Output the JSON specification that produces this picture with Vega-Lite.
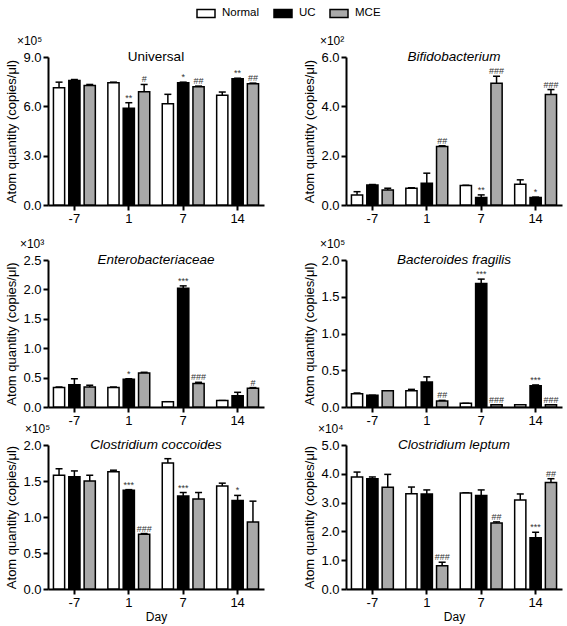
{
"$schema": "https://vega.github.io/schema/vega-lite/v6.json",
"padding": {"left": 5, "top": 3, "right": 5, "bottom": 3},
"config": {
  "font": "Liberation Sans",
  "view": {"stroke": null},
  "axis": {"domainColor": "black", "domainWidth": 2, "tickColor": "black", "tickWidth": 2, "tickSize": 5, "labelColor": "black", "labelFontSize": 13, "titleFontSize": 13, "titleFontWeight": "normal", "titleColor": "black", "grid": false, "labelFont": "Liberation Sans", "titleFont": "Liberation Sans", "labelPadding": 2, "titlePadding": 4, "labelAngle": 0},
  "title": {"font": "Liberation Sans", "color": "black", "fontWeight": "normal"}
},
"datasets": {
 "d": [
  {"p":"U","day":"-7","g":"Normal","v":7.13,"u":7.47,"s":""},
  {"p":"U","day":"-7","g":"UC","v":7.57,"u":7.63,"s":""},
  {"p":"U","day":"-7","g":"MCE","v":7.27,"u":7.33,"s":""},
  {"p":"U","day":"1","g":"Normal","v":7.43,"u":7.47,"s":""},
  {"p":"U","day":"1","g":"UC","v":5.88,"u":6.22,"s":"**"},
  {"p":"U","day":"1","g":"MCE","v":6.89,"u":7.33,"s":"#"},
  {"p":"U","day":"7","g":"Normal","v":6.16,"u":6.73,"s":""},
  {"p":"U","day":"7","g":"UC","v":7.43,"u":7.47,"s":"*"},
  {"p":"U","day":"7","g":"MCE","v":7.19,"u":7.23,"s":"##"},
  {"p":"U","day":"14","g":"Normal","v":6.67,"u":6.87,"s":""},
  {"p":"U","day":"14","g":"UC","v":7.67,"u":7.71,"s":"**"},
  {"p":"U","day":"14","g":"MCE","v":7.37,"u":7.41,"s":"##"},

  {"p":"B","day":"-7","g":"Normal","v":0.41,"u":0.54,"s":""},
  {"p":"B","day":"-7","g":"UC","v":0.81,"u":0.83,"s":""},
  {"p":"B","day":"-7","g":"MCE","v":0.61,"u":0.68,"s":""},
  {"p":"B","day":"1","g":"Normal","v":0.68,"u":0.70,"s":""},
  {"p":"B","day":"1","g":"UC","v":0.88,"u":1.29,"s":""},
  {"p":"B","day":"1","g":"MCE","v":2.37,"u":2.40,"s":"##"},
  {"p":"B","day":"7","g":"Normal","v":0.79,"u":0.80,"s":""},
  {"p":"B","day":"7","g":"UC","v":0.30,"u":0.41,"s":"**"},
  {"p":"B","day":"7","g":"MCE","v":4.94,"u":5.22,"s":"###"},
  {"p":"B","day":"14","g":"Normal","v":0.84,"u":1.02,"s":""},
  {"p":"B","day":"14","g":"UC","v":0.30,"u":0.32,"s":"*"},
  {"p":"B","day":"14","g":"MCE","v":4.48,"u":4.68,"s":"###"},

  {"p":"E","day":"-7","g":"Normal","v":0.33,"u":0.34,"s":""},
  {"p":"E","day":"-7","g":"UC","v":0.38,"u":0.48,"s":""},
  {"p":"E","day":"-7","g":"MCE","v":0.34,"u":0.37,"s":""},
  {"p":"E","day":"1","g":"Normal","v":0.33,"u":0.34,"s":""},
  {"p":"E","day":"1","g":"UC","v":0.47,"u":0.48,"s":"*"},
  {"p":"E","day":"1","g":"MCE","v":0.58,"u":0.59,"s":""},
  {"p":"E","day":"7","g":"Normal","v":0.09,"u":0.09,"s":""},
  {"p":"E","day":"7","g":"UC","v":2.02,"u":2.06,"s":"***"},
  {"p":"E","day":"7","g":"MCE","v":0.40,"u":0.42,"s":"###"},
  {"p":"E","day":"14","g":"Normal","v":0.11,"u":0.11,"s":""},
  {"p":"E","day":"14","g":"UC","v":0.19,"u":0.25,"s":""},
  {"p":"E","day":"14","g":"MCE","v":0.32,"u":0.33,"s":"#"},

  {"p":"BF","day":"-7","g":"Normal","v":0.18,"u":0.19,"s":""},
  {"p":"BF","day":"-7","g":"UC","v":0.16,"u":0.16,"s":""},
  {"p":"BF","day":"-7","g":"MCE","v":0.22,"u":0.22,"s":""},
  {"p":"BF","day":"1","g":"Normal","v":0.22,"u":0.24,"s":""},
  {"p":"BF","day":"1","g":"UC","v":0.34,"u":0.41,"s":""},
  {"p":"BF","day":"1","g":"MCE","v":0.08,"u":0.09,"s":"##"},
  {"p":"BF","day":"7","g":"Normal","v":0.05,"u":0.05,"s":""},
  {"p":"BF","day":"7","g":"UC","v":1.68,"u":1.74,"s":"***"},
  {"p":"BF","day":"7","g":"MCE","v":0.03,"u":0.03,"s":"###"},
  {"p":"BF","day":"14","g":"Normal","v":0.03,"u":0.03,"s":""},
  {"p":"BF","day":"14","g":"UC","v":0.29,"u":0.30,"s":"***"},
  {"p":"BF","day":"14","g":"MCE","v":0.03,"u":0.03,"s":"###"},

  {"p":"CC","day":"-7","g":"Normal","v":1.58,"u":1.67,"s":""},
  {"p":"CC","day":"-7","g":"UC","v":1.56,"u":1.64,"s":""},
  {"p":"CC","day":"-7","g":"MCE","v":1.50,"u":1.58,"s":""},
  {"p":"CC","day":"1","g":"Normal","v":1.63,"u":1.65,"s":""},
  {"p":"CC","day":"1","g":"UC","v":1.37,"u":1.38,"s":"***"},
  {"p":"CC","day":"1","g":"MCE","v":0.76,"u":0.77,"s":"###"},
  {"p":"CC","day":"7","g":"Normal","v":1.75,"u":1.81,"s":""},
  {"p":"CC","day":"7","g":"UC","v":1.29,"u":1.34,"s":"***"},
  {"p":"CC","day":"7","g":"MCE","v":1.25,"u":1.34,"s":""},
  {"p":"CC","day":"14","g":"Normal","v":1.43,"u":1.47,"s":""},
  {"p":"CC","day":"14","g":"UC","v":1.23,"u":1.30,"s":"*"},
  {"p":"CC","day":"14","g":"MCE","v":0.93,"u":1.22,"s":""},

  {"p":"CL","day":"-7","g":"Normal","v":3.89,"u":4.06,"s":""},
  {"p":"CL","day":"-7","g":"UC","v":3.83,"u":3.89,"s":""},
  {"p":"CL","day":"-7","g":"MCE","v":3.53,"u":3.98,"s":""},
  {"p":"CL","day":"1","g":"Normal","v":3.31,"u":3.54,"s":""},
  {"p":"CL","day":"1","g":"UC","v":3.30,"u":3.44,"s":""},
  {"p":"CL","day":"1","g":"MCE","v":0.81,"u":0.93,"s":"###"},
  {"p":"CL","day":"7","g":"Normal","v":3.33,"u":3.34,"s":""},
  {"p":"CL","day":"7","g":"UC","v":3.25,"u":3.44,"s":""},
  {"p":"CL","day":"7","g":"MCE","v":2.29,"u":2.33,"s":"##"},
  {"p":"CL","day":"14","g":"Normal","v":3.09,"u":3.30,"s":""},
  {"p":"CL","day":"14","g":"UC","v":1.78,"u":1.97,"s":"***"},
  {"p":"CL","day":"14","g":"MCE","v":3.70,"u":3.83,"s":"##"}
 ]
},
"spacing": -5,
"vconcat": [
 {"spacing": 12, "vconcat": [
  {"spacing": 39, "hconcat": [
   {"title": {"text": "×10⁵", "anchor": "start", "fontSize": 12, "offset": 2, "dx": 11},
    "vconcat": [{
     "width": 216, "height": 148,
     "title": {"text": "Universal", "offset": -12, "fontSize": 13.5, "fontStyle": "normal"},
     "data": {"name": "d"},
     "transform": [{"filter": "datum.p == 'U'"}],
     "encoding": {
      "x": {"field": "day", "type": "nominal", "sort": ["-7","1","7","14"], "scale": {"paddingInner": 0.23, "paddingOuter": 0.1}, "axis": {"title": null}},
      "xOffset": {"field": "g", "type": "nominal", "sort": ["Normal","UC","MCE"], "scale": {"paddingInner": 0.27, "paddingOuter": 0}}
     },
     "layer": [
      {"mark": {"type": "rule", "color": "black", "strokeWidth": 1.5}, "encoding": {"y": {"field": "v", "type": "quantitative", "title": "Atom quantity (copies/μl)", "scale": {"domain": [0, 9], "nice": false}, "axis": {"values": [0,3,6,9], "format": ".1f"}}, "y2": {"field": "u"}}},
      {"mark": {"type": "tick", "color": "black", "size": 7, "thickness": 1.5, "opacity": 1}, "encoding": {"y": {"field": "u", "type": "quantitative", "title": "Atom quantity (copies/μl)", "scale": {"domain": [0, 9], "nice": false}, "axis": {"values": [0,3,6,9], "format": ".1f"}}}},
      {"mark": {"type": "bar", "stroke": "black", "strokeWidth": 1.5}, "encoding": {"y": {"field": "v", "type": "quantitative", "title": "Atom quantity (copies/μl)", "scale": {"domain": [0, 9], "nice": false}, "axis": {"values": [0,3,6,9], "format": ".1f"}},
        "fill": {"field": "g", "type": "nominal", "scale": {"domain": ["Normal","UC","MCE"], "range": ["#ffffff","#000000","#a9a9a9"]}, "legend": {"title": null, "orient": "none", "legendX": 148, "legendY": -54, "direction": "horizontal", "symbolType": "M-1,-0.45H1V0.45H-1Z", "symbolSize": 324, "symbolStrokeColor": "black", "symbolStrokeWidth": 1.5, "symbolOpacity": 1, "labelFontSize": 11.5, "labelFont": "Liberation Sans", "labelColor": "black", "columnPadding": 11, "labelOffset": 6}}}},
      {"transform": [{"filter": "datum.s != ''"}], "mark": {"type": "text", "baseline": "bottom", "dy": 0, "fontSize": 9, "color": "#333"}, "encoding": {"y": {"field": "u", "type": "quantitative", "title": "Atom quantity (copies/μl)", "scale": {"domain": [0, 9], "nice": false}, "axis": {"values": [0,3,6,9], "format": ".1f"}}, "text": {"field": "s"}}}
     ]
    }]
   },
   {"title": {"text": "×10²", "anchor": "start", "fontSize": 12, "offset": 2, "dx": 16},
    "vconcat": [{
     "width": 216, "height": 148,
     "title": {"text": "Bifidobacterium", "offset": -12, "fontSize": 13.5, "fontStyle": "italic"},
     "data": {"name": "d"},
     "transform": [{"filter": "datum.p == 'B'"}],
     "encoding": {
      "x": {"field": "day", "type": "nominal", "sort": ["-7","1","7","14"], "scale": {"paddingInner": 0.23, "paddingOuter": 0.1}, "axis": {"title": null}},
      "xOffset": {"field": "g", "type": "nominal", "sort": ["Normal","UC","MCE"], "scale": {"paddingInner": 0.27, "paddingOuter": 0}}
     },
     "layer": [
      {"mark": {"type": "rule", "color": "black", "strokeWidth": 1.5}, "encoding": {"y": {"field": "v", "type": "quantitative", "title": "Atom quantity (copies/μl)", "scale": {"domain": [0, 6], "nice": false}, "axis": {"values": [0,2,4,6], "format": ".1f"}}, "y2": {"field": "u"}}},
      {"mark": {"type": "tick", "color": "black", "size": 7, "thickness": 1.5, "opacity": 1}, "encoding": {"y": {"field": "u", "type": "quantitative", "title": "Atom quantity (copies/μl)", "scale": {"domain": [0, 6], "nice": false}, "axis": {"values": [0,2,4,6], "format": ".1f"}}}},
      {"mark": {"type": "bar", "stroke": "black", "strokeWidth": 1.5}, "encoding": {"y": {"field": "v", "type": "quantitative", "title": "Atom quantity (copies/μl)", "scale": {"domain": [0, 6], "nice": false}, "axis": {"values": [0,2,4,6], "format": ".1f"}},
        "fill": {"field": "g", "type": "nominal", "scale": {"domain": ["Normal","UC","MCE"], "range": ["#ffffff","#000000","#a9a9a9"]}, "legend": {"title": null, "orient": "none", "legendX": 148, "legendY": -54, "direction": "horizontal", "symbolType": "M-1,-0.45H1V0.45H-1Z", "symbolSize": 324, "symbolStrokeColor": "black", "symbolStrokeWidth": 1.5, "symbolOpacity": 1, "labelFontSize": 11.5, "labelFont": "Liberation Sans", "labelColor": "black", "columnPadding": 11, "labelOffset": 6}}}},
      {"transform": [{"filter": "datum.s != ''"}], "mark": {"type": "text", "baseline": "bottom", "dy": 0, "fontSize": 9, "color": "#333"}, "encoding": {"y": {"field": "u", "type": "quantitative", "title": "Atom quantity (copies/μl)", "scale": {"domain": [0, 6], "nice": false}, "axis": {"values": [0,2,4,6], "format": ".1f"}}, "text": {"field": "s"}}}
     ]
    }]
   }
  ]},
  {"spacing": 39, "hconcat": [
   {"title": {"text": "×10³", "anchor": "start", "fontSize": 12, "offset": 2, "dx": 14},
    "vconcat": [{
     "width": 216, "height": 147,
     "title": {"text": "Enterobacteriaceae", "offset": -12, "fontSize": 13.5, "fontStyle": "italic"},
     "data": {"name": "d"},
     "transform": [{"filter": "datum.p == 'E'"}],
     "encoding": {
      "x": {"field": "day", "type": "nominal", "sort": ["-7","1","7","14"], "scale": {"paddingInner": 0.23, "paddingOuter": 0.1}, "axis": {"title": null}},
      "xOffset": {"field": "g", "type": "nominal", "sort": ["Normal","UC","MCE"], "scale": {"paddingInner": 0.27, "paddingOuter": 0}}
     },
     "layer": [
      {"mark": {"type": "rule", "color": "black", "strokeWidth": 1.5}, "encoding": {"y": {"field": "v", "type": "quantitative", "title": "Atom quantity (copies/μl)", "scale": {"domain": [0, 2.5], "nice": false}, "axis": {"values": [0,0.5,1,1.5,2,2.5], "format": ".1f"}}, "y2": {"field": "u"}}},
      {"mark": {"type": "tick", "color": "black", "size": 7, "thickness": 1.5, "opacity": 1}, "encoding": {"y": {"field": "u", "type": "quantitative", "title": "Atom quantity (copies/μl)", "scale": {"domain": [0, 2.5], "nice": false}, "axis": {"values": [0,0.5,1,1.5,2,2.5], "format": ".1f"}}}},
      {"mark": {"type": "bar", "stroke": "black", "strokeWidth": 1.5}, "encoding": {"y": {"field": "v", "type": "quantitative", "title": "Atom quantity (copies/μl)", "scale": {"domain": [0, 2.5], "nice": false}, "axis": {"values": [0,0.5,1,1.5,2,2.5], "format": ".1f"}},
        "fill": {"field": "g", "type": "nominal", "scale": {"domain": ["Normal","UC","MCE"], "range": ["#ffffff","#000000","#a9a9a9"]}, "legend": {"title": null, "orient": "none", "legendX": 148, "legendY": -54, "direction": "horizontal", "symbolType": "M-1,-0.45H1V0.45H-1Z", "symbolSize": 324, "symbolStrokeColor": "black", "symbolStrokeWidth": 1.5, "symbolOpacity": 1, "labelFontSize": 11.5, "labelFont": "Liberation Sans", "labelColor": "black", "columnPadding": 11, "labelOffset": 6}}}},
      {"transform": [{"filter": "datum.s != ''"}], "mark": {"type": "text", "baseline": "bottom", "dy": 0, "fontSize": 9, "color": "#333"}, "encoding": {"y": {"field": "u", "type": "quantitative", "title": "Atom quantity (copies/μl)", "scale": {"domain": [0, 2.5], "nice": false}, "axis": {"values": [0,0.5,1,1.5,2,2.5], "format": ".1f"}}, "text": {"field": "s"}}}
     ]
    }]
   },
   {"title": {"text": "×10⁵", "anchor": "start", "fontSize": 12, "offset": 2, "dx": 16},
    "vconcat": [{
     "width": 216, "height": 147,
     "title": {"text": "Bacteroides fragilis", "offset": -12, "fontSize": 13.5, "fontStyle": "italic"},
     "data": {"name": "d"},
     "transform": [{"filter": "datum.p == 'BF'"}],
     "encoding": {
      "x": {"field": "day", "type": "nominal", "sort": ["-7","1","7","14"], "scale": {"paddingInner": 0.23, "paddingOuter": 0.1}, "axis": {"title": null}},
      "xOffset": {"field": "g", "type": "nominal", "sort": ["Normal","UC","MCE"], "scale": {"paddingInner": 0.27, "paddingOuter": 0}}
     },
     "layer": [
      {"mark": {"type": "rule", "color": "black", "strokeWidth": 1.5}, "encoding": {"y": {"field": "v", "type": "quantitative", "title": "Atom quantity (copies/μl)", "scale": {"domain": [0, 2], "nice": false}, "axis": {"values": [0,0.5,1,1.5,2], "format": ".1f"}}, "y2": {"field": "u"}}},
      {"mark": {"type": "tick", "color": "black", "size": 7, "thickness": 1.5, "opacity": 1}, "encoding": {"y": {"field": "u", "type": "quantitative", "title": "Atom quantity (copies/μl)", "scale": {"domain": [0, 2], "nice": false}, "axis": {"values": [0,0.5,1,1.5,2], "format": ".1f"}}}},
      {"mark": {"type": "bar", "stroke": "black", "strokeWidth": 1.5}, "encoding": {"y": {"field": "v", "type": "quantitative", "title": "Atom quantity (copies/μl)", "scale": {"domain": [0, 2], "nice": false}, "axis": {"values": [0,0.5,1,1.5,2], "format": ".1f"}},
        "fill": {"field": "g", "type": "nominal", "scale": {"domain": ["Normal","UC","MCE"], "range": ["#ffffff","#000000","#a9a9a9"]}, "legend": {"title": null, "orient": "none", "legendX": 148, "legendY": -54, "direction": "horizontal", "symbolType": "M-1,-0.45H1V0.45H-1Z", "symbolSize": 324, "symbolStrokeColor": "black", "symbolStrokeWidth": 1.5, "symbolOpacity": 1, "labelFontSize": 11.5, "labelFont": "Liberation Sans", "labelColor": "black", "columnPadding": 11, "labelOffset": 6}}}},
      {"transform": [{"filter": "datum.s != ''"}], "mark": {"type": "text", "baseline": "bottom", "dy": 0, "fontSize": 9, "color": "#333"}, "encoding": {"y": {"field": "u", "type": "quantitative", "title": "Atom quantity (copies/μl)", "scale": {"domain": [0, 2], "nice": false}, "axis": {"values": [0,0.5,1,1.5,2], "format": ".1f"}}, "text": {"field": "s"}}}
     ]
    }]
   }
  ]}
 ]},
 {"spacing": 39, "hconcat": [
   {"title": {"text": "×10⁵", "anchor": "start", "fontSize": 12, "offset": 2, "dx": 19},
    "vconcat": [{
     "width": 216, "height": 144,
     "title": {"text": "Clostridium coccoides", "offset": -12, "fontSize": 13.5, "fontStyle": "italic"},
     "data": {"name": "d"},
     "transform": [{"filter": "datum.p == 'CC'"}],
     "encoding": {
      "x": {"field": "day", "type": "nominal", "sort": ["-7","1","7","14"], "scale": {"paddingInner": 0.23, "paddingOuter": 0.1}, "axis": {"title": "Day", "titleFontSize": 12, "titlePadding": 2}},
      "xOffset": {"field": "g", "type": "nominal", "sort": ["Normal","UC","MCE"], "scale": {"paddingInner": 0.27, "paddingOuter": 0}}
     },
     "layer": [
      {"mark": {"type": "rule", "color": "black", "strokeWidth": 1.5}, "encoding": {"y": {"field": "v", "type": "quantitative", "title": "Atom quantity (copies/μl)", "scale": {"domain": [0, 2], "nice": false}, "axis": {"values": [0,0.5,1,1.5,2], "format": ".1f"}}, "y2": {"field": "u"}}},
      {"mark": {"type": "tick", "color": "black", "size": 7, "thickness": 1.5, "opacity": 1}, "encoding": {"y": {"field": "u", "type": "quantitative", "title": "Atom quantity (copies/μl)", "scale": {"domain": [0, 2], "nice": false}, "axis": {"values": [0,0.5,1,1.5,2], "format": ".1f"}}}},
      {"mark": {"type": "bar", "stroke": "black", "strokeWidth": 1.5}, "encoding": {"y": {"field": "v", "type": "quantitative", "title": "Atom quantity (copies/μl)", "scale": {"domain": [0, 2], "nice": false}, "axis": {"values": [0,0.5,1,1.5,2], "format": ".1f"}},
        "fill": {"field": "g", "type": "nominal", "scale": {"domain": ["Normal","UC","MCE"], "range": ["#ffffff","#000000","#a9a9a9"]}, "legend": {"title": null, "orient": "none", "legendX": 148, "legendY": -54, "direction": "horizontal", "symbolType": "M-1,-0.45H1V0.45H-1Z", "symbolSize": 324, "symbolStrokeColor": "black", "symbolStrokeWidth": 1.5, "symbolOpacity": 1, "labelFontSize": 11.5, "labelFont": "Liberation Sans", "labelColor": "black", "columnPadding": 11, "labelOffset": 6}}}},
      {"transform": [{"filter": "datum.s != ''"}], "mark": {"type": "text", "baseline": "bottom", "dy": 0, "fontSize": 9, "color": "#333"}, "encoding": {"y": {"field": "u", "type": "quantitative", "title": "Atom quantity (copies/μl)", "scale": {"domain": [0, 2], "nice": false}, "axis": {"values": [0,0.5,1,1.5,2], "format": ".1f"}}, "text": {"field": "s"}}}
     ]
    }]
   },
   {"title": {"text": "×10⁴", "anchor": "start", "fontSize": 12, "offset": 2, "dx": 14},
    "vconcat": [{
     "width": 216, "height": 144,
     "title": {"text": "Clostridium leptum", "offset": -12, "fontSize": 13.5, "fontStyle": "italic"},
     "data": {"name": "d"},
     "transform": [{"filter": "datum.p == 'CL'"}],
     "encoding": {
      "x": {"field": "day", "type": "nominal", "sort": ["-7","1","7","14"], "scale": {"paddingInner": 0.23, "paddingOuter": 0.1}, "axis": {"title": "Day", "titleFontSize": 12, "titlePadding": 2}},
      "xOffset": {"field": "g", "type": "nominal", "sort": ["Normal","UC","MCE"], "scale": {"paddingInner": 0.27, "paddingOuter": 0}}
     },
     "layer": [
      {"mark": {"type": "rule", "color": "black", "strokeWidth": 1.5}, "encoding": {"y": {"field": "v", "type": "quantitative", "title": "Atom quantity (copies/μl)", "scale": {"domain": [0, 5], "nice": false}, "axis": {"values": [0,1,2,3,4,5], "format": ".1f"}}, "y2": {"field": "u"}}},
      {"mark": {"type": "tick", "color": "black", "size": 7, "thickness": 1.5, "opacity": 1}, "encoding": {"y": {"field": "u", "type": "quantitative", "title": "Atom quantity (copies/μl)", "scale": {"domain": [0, 5], "nice": false}, "axis": {"values": [0,1,2,3,4,5], "format": ".1f"}}}},
      {"mark": {"type": "bar", "stroke": "black", "strokeWidth": 1.5}, "encoding": {"y": {"field": "v", "type": "quantitative", "title": "Atom quantity (copies/μl)", "scale": {"domain": [0, 5], "nice": false}, "axis": {"values": [0,1,2,3,4,5], "format": ".1f"}},
        "fill": {"field": "g", "type": "nominal", "scale": {"domain": ["Normal","UC","MCE"], "range": ["#ffffff","#000000","#a9a9a9"]}, "legend": {"title": null, "orient": "none", "legendX": 148, "legendY": -54, "direction": "horizontal", "symbolType": "M-1,-0.45H1V0.45H-1Z", "symbolSize": 324, "symbolStrokeColor": "black", "symbolStrokeWidth": 1.5, "symbolOpacity": 1, "labelFontSize": 11.5, "labelFont": "Liberation Sans", "labelColor": "black", "columnPadding": 11, "labelOffset": 6}}}},
      {"transform": [{"filter": "datum.s != ''"}], "mark": {"type": "text", "baseline": "bottom", "dy": 0, "fontSize": 9, "color": "#333"}, "encoding": {"y": {"field": "u", "type": "quantitative", "title": "Atom quantity (copies/μl)", "scale": {"domain": [0, 5], "nice": false}, "axis": {"values": [0,1,2,3,4,5], "format": ".1f"}}, "text": {"field": "s"}}}
     ]
    }]
   }
 ]}
]
}
